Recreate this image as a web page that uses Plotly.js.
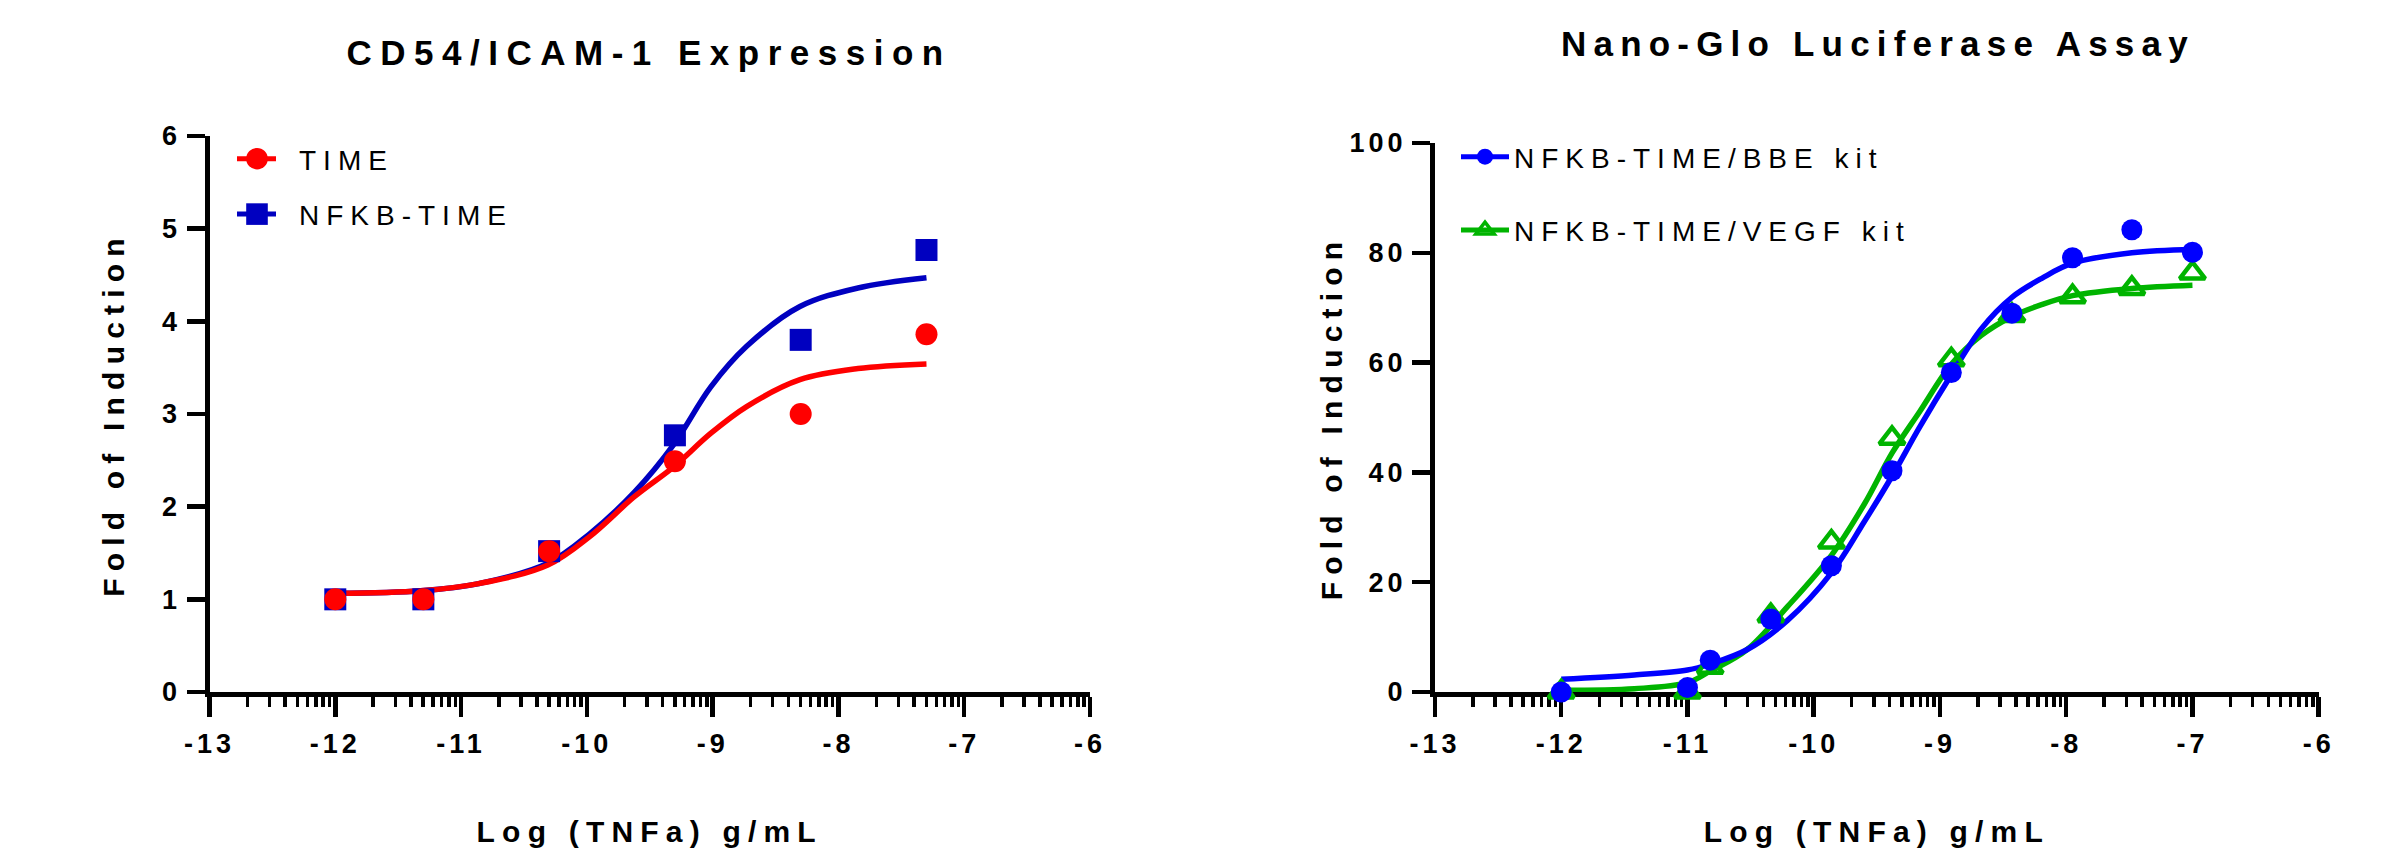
<!DOCTYPE html>
<html>
<head>
<meta charset="utf-8">
<script src="https://cdn.plot.ly/plotly-3.0.1.min.js"></script>
<style>
html, body { margin: 0; padding: 0; background: #ffffff; }
#chart { width: 2382px; height: 866px; }
</style>
</head>
<body>
<div id="chart"></div>
<script>
// ---------- Left panel: CD54/ICAM-1 Expression ----------
const leftDoseX = [-12, -11.3, -10.3, -9.3, -8.3, -7.3];
const timeY = [1.00, 1.00, 1.52, 2.49, 3.00, 3.86];
const nfkbTimeY = [1.00, 1.00, 1.52, 2.77, 3.80, 4.77];
const leftCurveX = [-12, -11.32, -10.86, -10.31, -9.975, -9.62, -9.31, -9.016, -8.73, -8.306, -7.845, -7.3];
const timeCurveY = [1.065, 1.093, 1.17, 1.37, 1.68, 2.11, 2.43, 2.79, 3.08, 3.37, 3.49, 3.54];
const nfkbTimeCurveY = [1.065, 1.093, 1.17, 1.39, 1.71, 2.16, 2.67, 3.29, 3.73, 4.16, 4.36, 4.47];

// ---------- Right panel: Nano-Glo Luciferase Assay ----------
const rightDoseX = [-12, -11, -10.82, -10.34, -9.86, -9.38, -8.91, -8.43, -7.95, -7.48, -7.0];
const bbeY = [0, 0.8, 5.8, 13.3, 23.0, 40.3, 58.2, 69.0, 79.1, 84.2, 80.1];
const vegfY = [0, 0, 4.5, 13.9, 27.3, 46.2, 60.5, 68.6, 72.0, 73.5, 76.3];
const rightCurveX = [-12, -11.42, -11, -10.82, -10.53, -10.21, -9.86, -9.6, -9.38, -9.16, -8.91, -8.675, -8.43, -8.19, -7.95, -7.48, -7.0];
const bbeCurveY = [2.3, 3.1, 4.0, 5.1, 7.7, 13.0, 21.7, 31.0, 39.3, 48.3, 57.8, 66.1, 71.9, 75.4, 78.1, 80.0, 80.6];
const vegfCurveY = [0.3, 0.6, 1.7, 3.8, 7.7, 15.5, 24.9, 34.2, 43.5, 51.1, 59.7, 64.9, 68.4, 70.6, 72.2, 73.5, 74.1];

// ---------- Labels / ticks ----------
const seriesNames = ['TIME', 'NFKB-TIME', 'NFKB-TIME/BBE kit', 'NFKB-TIME/VEGF kit'];
const panelTitles = ['CD54/ICAM-1 Expression', 'Nano-Glo Luciferase Assay'];
const xTitle = 'Log (TNFa) g/mL';
const yTitle = 'Fold of Induction';
const xTickVals = [-13, -12, -11, -10, -9, -8, -7, -6];
const xTickLabels = ['-13', '-12', '-11', '-10', '-9', '-8', '-7', '-6'];
const leftYTickVals = [0, 1, 2, 3, 4, 5, 6];
const leftYTickLabels = ['0', '1', '2', '3', '4', '5', '6'];
const rightYTickVals = [0, 20, 40, 60, 80, 100];
const rightYTickLabels = ['0', '20', '40', '60', '80', '100'];
const decades = [-13, -12, -11, -10, -9, -8, -7];
const minorMultipliers = [2, 3, 4, 5, 6, 7, 8, 9];
const minorVals = decades.flatMap(d => minorMultipliers.map(k => d + Math.log10(k)));

const RED = '#FF0000', DARKBLUE = '#0000C0', BLUE = '#0000FF', GREEN = '#00B400';
const FONT = 'Liberation Sans, Arial, Helvetica, sans-serif';

function xAxis(domain, anchor) {
  return {
    domain: domain, anchor: anchor, range: [-13, -6],
    tickmode: 'array', tickvals: xTickVals, ticktext: xTickLabels,
    ticks: 'outside', ticklen: 20, tickwidth: 4.5, tickcolor: '#000',
    ticklabelstandoff: 4,
    showline: true, linewidth: 5, linecolor: '#000',
    showgrid: false, zeroline: false, layer: 'below traces', fixedrange: true,
    tickfont: { family: FONT, size: 27, color: '#000', weight: 'bold' },
    minor: { tickmode: 'array', tickvals: minorVals, ticks: 'outside', ticklen: 10, tickwidth: 3.5, tickcolor: '#000', showgrid: false },
    title: { text: xTitle, font: { family: FONT, size: 30, color: '#000', weight: 'bold' }, standoff: 64 }
  };
}
function yAxis(domain, anchor, range, vals, labels, standoff) {
  return {
    domain: domain, anchor: anchor, range: range,
    tickmode: 'array', tickvals: vals, ticktext: labels,
    ticks: 'outside', ticklen: 18, tickwidth: 4.5, tickcolor: '#000',
    showline: true, linewidth: 5, linecolor: '#000',
    showgrid: false, zeroline: false, layer: 'below traces', fixedrange: true,
    tickfont: { family: FONT, size: 27, color: '#000', weight: 'bold' },
    title: { text: yTitle, font: { family: FONT, size: 30, color: '#000', weight: 'bold' }, standoff: standoff }
  };
}

function curve(x, y, color, xa, ya) {
  return { type: 'scatter', mode: 'lines', x: x, y: y, xaxis: xa, yaxis: ya,
    line: { color: color, width: 5.5, shape: 'spline', smoothing: 1 },
    showlegend: false, hoverinfo: 'skip', cliponaxis: false };
}
function points(x, y, color, symbol, size, xa, ya, open) {
  return { type: 'scatter', mode: 'markers', x: x, y: y, xaxis: xa, yaxis: ya,
    marker: open ? { symbol: symbol, size: size, color: color, line: { color: color, width: 4.5 } }
                 : { symbol: symbol, size: size, color: color, line: { width: 0 } },
    showlegend: false, hoverinfo: 'skip', cliponaxis: false };
}
function legendEntry(name, color, symbol, size, xa, ya, legend, group, open) {
  return { type: 'scatter', mode: 'lines+markers', x: [null], y: [null], xaxis: xa, yaxis: ya,
    name: name, legend: legend, legendgroup: group,
    line: { color: color, width: 5 },
    marker: open ? { symbol: symbol, size: size, color: color, line: { color: color, width: 3.5 } }
                 : { symbol: symbol, size: size, color: color },
    hoverinfo: 'skip' };
}

const data = [
  curve(leftCurveX, nfkbTimeCurveY, DARKBLUE, 'x', 'y'),
  curve(leftCurveX, timeCurveY, RED, 'x', 'y'),
  points(leftDoseX, nfkbTimeY, DARKBLUE, 'square', 22, 'x', 'y'),
  points(leftDoseX, timeY, RED, 'circle', 22, 'x', 'y'),
  legendEntry(seriesNames[0], RED, 'circle', 22, 'x', 'y', 'legend', 'a'),
  legendEntry(seriesNames[1], DARKBLUE, 'square', 22, 'x', 'y', 'legend', 'b'),

  curve(rightCurveX, vegfCurveY, GREEN, 'x2', 'y2'),
  curve(rightCurveX, bbeCurveY, BLUE, 'x2', 'y2'),
  points(rightDoseX, vegfY, GREEN, 'triangle-up-open', 22, 'x2', 'y2', true),
  points(rightDoseX, bbeY, BLUE, 'circle', 21, 'x2', 'y2'),
  legendEntry(seriesNames[2], BLUE, 'circle', 21, 'x2', 'y2', 'legend2', 'c'),
  legendEntry(seriesNames[3], GREEN, 'triangle-up-open', 20, 'x2', 'y2', 'legend2', 'd', true)
];

const W = 2382, H = 866;
const layout = {
  width: W, height: H,
  margin: { l: 0, r: 0, t: 0, b: 0 },
  paper_bgcolor: '#ffffff', plot_bgcolor: '#ffffff',
  showlegend: true,
  font: { family: FONT, color: '#000' },
  xaxis: xAxis([209.5 / W, 1090 / W], 'y'),
  yaxis: yAxis([(H - 692) / H, (H - 136) / H], 'x', [0, 6], leftYTickVals, leftYTickLabels, 34),
  xaxis2: xAxis([1435 / W, 2318.7 / W], 'y2'),
  yaxis2: yAxis([(H - 692) / H, (H - 143) / H], 'x2', [0, 100], rightYTickVals, rightYTickLabels, 12),
  legend: { x: 237 / W, y: (H - 134) / H, xanchor: 'left', yanchor: 'top',
    bgcolor: 'rgba(0,0,0,0)', borderwidth: 0, traceorder: 'grouped', tracegroupgap: 16,
    itemwidth: 52, font: { family: FONT, size: 28, color: '#000' } },
  legend2: { x: 1456 / W, y: (H - 132) / H, xanchor: 'left', yanchor: 'top',
    bgcolor: 'rgba(0,0,0,0)', borderwidth: 0, traceorder: 'grouped', tracegroupgap: 34,
    itemwidth: 48, font: { family: FONT, size: 28, color: '#000' } },
  annotations: [
    { text: panelTitles[0], xref: 'paper', yref: 'paper', x: 649 / W, y: (H - 52) / H,
      xanchor: 'center', yanchor: 'middle', showarrow: false,
      font: { family: FONT, size: 35, color: '#000', weight: 'bold' } },
    { text: panelTitles[1], xref: 'paper', yref: 'paper', x: 1878 / W, y: (H - 43) / H,
      xanchor: 'center', yanchor: 'middle', showarrow: false,
      font: { family: FONT, size: 35, color: '#000', weight: 'bold' } }
  ]
};

function spaceText(root, sel, px) {
  root.querySelectorAll(sel).forEach(function (t) {
    t.style.setProperty('letter-spacing', px + 'px', 'important');
  });
}

Plotly.newPlot('chart', data, layout, { displayModeBar: false, staticPlot: true }).then(function () {
  var gd = document.getElementById('chart');
  gd.querySelectorAll('.annotation').forEach(function (a) {
    var idx = a.getAttribute('data-index');
    spaceText(a, 'text', idx === '0' ? 8.5 : 7.2);
  });
  spaceText(gd, 'text.xtitle, text.ytitle, text.x2title, text.y2title', 7.2);
  spaceText(gd, 'g.xtick text, g.ytick text, g.x2tick text, g.y2tick text', 4);
  gd.querySelectorAll('g').forEach(function (g) {
    var c = (g.getAttribute('class') || '').trim();
    if (/^legend\d*$/.test(c)) {
      var isRight = c !== 'legend';
      spaceText(g, 'text', 7);
      g.removeAttribute('clip-path');
      g.querySelectorAll('[clip-path]').forEach(function (e) { e.removeAttribute('clip-path'); });
      g.querySelectorAll('g.traces').forEach(function (tr) {
        var txt = tr.querySelector('text.legendtext');
        if (!txt) return;
        var tx = parseFloat(txt.getAttribute('x')) || 0;
        var mOff = isRight ? 38 : 42, l0 = isRight ? 55 : 62, l1 = isRight ? 20 : 23;
        tr.querySelectorAll('path.js-line').forEach(function (p) {
          p.setAttribute('d', 'M' + (tx - l0) + ',0H' + (tx - l1));
        });
        tr.querySelectorAll('path.scatterpts').forEach(function (p) {
          p.setAttribute('transform', 'translate(' + (tx - mOff) + ',0) scale(1.35)');
        });
      });
    }
  });
});
</script>
</body>
</html>
